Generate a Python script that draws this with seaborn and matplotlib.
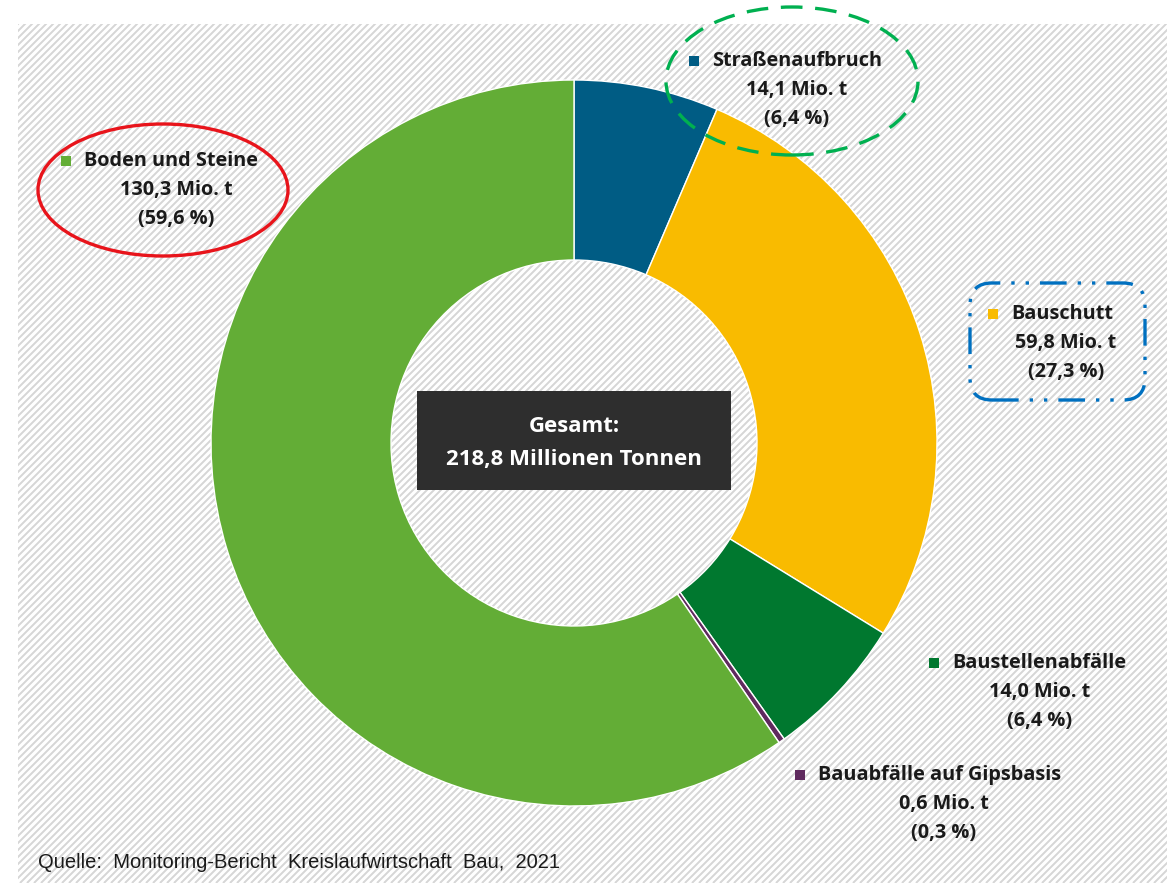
import matplotlib
matplotlib.use("Agg")
import matplotlib.pyplot as plt
from matplotlib.patches import Rectangle, Ellipse, FancyBboxPatch
from matplotlib.collections import LineCollection
import numpy as np
import seaborn as sns

# Bauabfälle 2018 nach Fraktion (Mio. t)
categories = ["Straßenaufbruch", "Bauschutt", "Baustellenabfälle",
              "Bauabfälle auf Gipsbasis", "Boden und Steine"]
values = [14.1, 59.8, 14.0, 0.6, 130.3]
shares = [6.4, 27.3, 6.4, 0.3, 59.6]
total = 218.8

colors = sns.color_palette(["#005c84", "#f9bb00", "#00782f", "#5f2a5e", "#63ad36"])

sns.set_theme(style="white")
plt.rcParams["font.family"] = ["Open Sans", "DejaVu Sans"]

W, H = 1176, 883
fig = plt.figure(figsize=(W / 100, H / 100), dpi=100)
ax = fig.add_axes([0, 0, 1, 1])


def Y(y):
    # pixel row (from top) -> data y
    return H - y


def de(x):
    # German decimal comma
    return f"{x:.1f}".replace(".", ",")


# donut
cx, cy, r_out, r_in = 574, 443, 363, 183
ax.pie(values, colors=colors, startangle=90, counterclock=False,
       center=(cx, Y(cy)), radius=r_out, frame=True,
       wedgeprops=dict(width=r_out - r_in, edgecolor="white", linewidth=1.0,
                       zorder=2))
ax.set_xlim(0, W)
ax.set_ylim(0, H)
ax.set_aspect("equal")
ax.axis("off")

# striped background panel
panel = Rectangle((18, 0), 1149, Y(24), facecolor="white",
                  edgecolor="none", zorder=0)
ax.add_patch(panel)
step = 7.0
offs = np.arange(-H, W + H, step)
stripes = LineCollection([[(o, 0), (o + H, H)] for o in offs],
                         colors="#d6d6d6", linewidths=1.4, zorder=0.5)
ax.add_collection(stripes)
stripes.set_clip_path(panel)

# total in the centre
ax.add_patch(Rectangle((417, Y(490)), 314, 99, facecolor="#2e2e2e",
                       edgecolor="none", zorder=5))
ax.text(574, Y(427), "Gesamt:", color="white", fontsize=16, fontweight="bold",
        ha="center", va="center", zorder=6)
ax.text(574, Y(460), f"{de(total)} Millionen Tonnen",
        color="white", fontsize=16, fontweight="bold",
        ha="center", va="center", zorder=6)

# category labels: (marker x, marker y, text centre x)
label_pos = {
    "Straßenaufbruch": (694, 61, 797),
    "Bauschutt": (993, 314, 1066),
    "Baustellenabfälle": (934, 663, 1040),
    "Bauabfälle auf Gipsbasis": (800, 775, 944),
    "Boden und Steine": (66, 161, 176),
}
line_gap = 29
for cat, val, pct, col in zip(categories, values, shares, colors):
    mx, my, tx = label_pos[cat]
    ax.plot(mx, Y(my), marker="s", markersize=6.5, color=col,
            markeredgewidth=0, zorder=6)
    ax.text(mx + 18, Y(my), cat, fontsize=14.3, fontweight="bold",
            color="#1a1a1a", ha="left", va="center", zorder=6)
    ax.text(tx, Y(my + line_gap), f"{de(val)} Mio. t",
            fontsize=14.3, fontweight="bold", color="#1a1a1a",
            ha="center", va="center", zorder=6)
    ax.text(tx, Y(my + 2 * line_gap), f"({de(pct)} %)",
            fontsize=14.3, fontweight="bold", color="#1a1a1a",
            ha="center", va="center", zorder=6)

# highlight marks
ax.add_patch(Ellipse((163, Y(190)), 250, 132, fill=False,
                     edgecolor="#e8141b", linewidth=2.4, zorder=7))
ax.add_patch(Ellipse((792, Y(81)), 252, 148, fill=False,
                     edgecolor="#00b050", linewidth=2.4,
                     linestyle=(0, (6.5, 3.8)), zorder=7))
ax.add_patch(FancyBboxPatch((970, Y(400)), 175, 117,
                            boxstyle="round,pad=0,rounding_size=22",
                            fill=False, edgecolor="#0070c0", linewidth=2.4,
                            linestyle=(0, (8, 3.3, 1, 3.3, 1, 3.3)), zorder=7))

# source
ax.text(38, Y(862), "Quelle:  Monitoring-Bericht  Kreislaufwirtschaft  Bau,  2021",
        family=["Liberation Sans", "DejaVu Sans"], fontsize=14.5,
        color="#1a1a1a", ha="left", va="center", zorder=6)

fig.savefig("out.png", dpi=100)
